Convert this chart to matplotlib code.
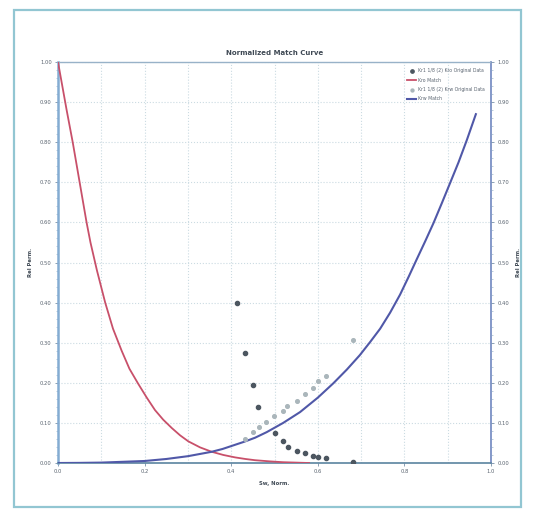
import matplotlib
matplotlib.use("Agg")
import matplotlib.pyplot as plt
from matplotlib.patches import Rectangle

# curves (normalized Sw vs rel perm)
kro_fit_x = [0.0, 0.01, 0.02, 0.034, 0.05, 0.066, 0.075, 0.09, 0.109, 0.127, 0.147,
             0.165, 0.185, 0.205, 0.224, 0.243, 0.263, 0.282, 0.301, 0.328, 0.355,
             0.382, 0.409, 0.433, 0.455, 0.49, 0.52, 0.55, 0.58]
kro_fit_y = [1.0, 0.94, 0.88, 0.80, 0.70, 0.60, 0.55, 0.48, 0.40, 0.335, 0.28,
             0.235, 0.198, 0.163, 0.132, 0.108, 0.087, 0.069, 0.054, 0.039, 0.028,
             0.020, 0.014, 0.010, 0.007, 0.004, 0.002, 0.001, 0.0]

krw_fit_x = [0.0, 0.05, 0.1, 0.15, 0.2, 0.25, 0.3, 0.33, 0.355, 0.38, 0.405, 0.43,
             0.455, 0.482, 0.52, 0.559, 0.60, 0.636, 0.667, 0.697, 0.721, 0.744,
             0.767, 0.79, 0.81, 0.828, 0.848, 0.867, 0.886, 0.905, 0.925, 0.944, 0.965]
krw_fit_y = [0.0, 0.0003, 0.001, 0.003, 0.005, 0.010, 0.017, 0.023, 0.028, 0.035,
             0.044, 0.053, 0.063, 0.077, 0.100, 0.127, 0.163, 0.199, 0.233, 0.269,
             0.302, 0.335, 0.375, 0.42, 0.465, 0.507, 0.553, 0.598, 0.647, 0.697,
             0.75, 0.805, 0.87]

# measured points
kro_sw = [0.413, 0.432, 0.451, 0.463, 0.501, 0.520, 0.532, 0.551, 0.570, 0.590,
          0.601, 0.620, 0.681]
kro_data = [0.398, 0.275, 0.195, 0.139, 0.074, 0.055, 0.041, 0.031, 0.024, 0.018,
            0.016, 0.012, 0.002]

krw_sw = [0.432, 0.451, 0.465, 0.480, 0.499, 0.520, 0.530, 0.551, 0.570, 0.590,
          0.601, 0.620, 0.681]
krw_data = [0.061, 0.078, 0.091, 0.103, 0.116, 0.130, 0.142, 0.155, 0.171, 0.186,
            0.204, 0.217, 0.308]

labels = ["Kr1 1/8 (2) Kro Original Data", "Kro Match",
          "Kr1 1/8 (2) Krw Original Data", "Krw Match"]

x_ticks = [0.0, 0.2, 0.4, 0.6, 0.8, 1.0]
y_ticks = [i / 10 for i in range(11)]

fig = plt.figure(figsize=(5.35, 5.16), dpi=100)
fig.patches.append(Rectangle((0.026, 0.017), 0.948, 0.963, transform=fig.transFigure,
                             fill=False, edgecolor="#92c6d2", lw=1.6))

ax = fig.add_axes([0.1084, 0.1027, 0.8094, 0.7771])
ax.set_xlim(0, 1.0)
ax.set_ylim(0, 1.0)

ax.grid(True, which="major", color="#cbdbe2", ls=":", lw=0.8)
ax.set_xticks([i / 10 for i in range(11)], minor=True)
ax.grid(True, which="minor", axis="x", color="#cbdbe2", ls=":", lw=0.8)

h1 = ax.scatter(kro_sw, kro_data, s=9, color="#4c5660", zorder=4)
h2, = ax.plot(kro_fit_x, kro_fit_y, color="#c8506a", lw=1.3, zorder=3,
              solid_joinstyle="round")
h3 = ax.scatter(krw_sw, krw_data, s=7, color="#aab6bb", zorder=4)
h4, = ax.plot(krw_fit_x, krw_fit_y, color="#5058a8", lw=1.5, zorder=3,
              solid_joinstyle="round")

leg = ax.legend([h1, h2, h3, h4], labels, loc="upper right", bbox_to_anchor=(0.995, 0.995),
                frameon=False, fontsize=3.3, handlelength=1.8, labelspacing=0.95,
                handletextpad=0.5, markerscale=0.8)
for t in leg.get_texts():
    t.set_color("#5a6470")

ax.set_xticks(x_ticks)
ax.set_xticklabels([f"{v:.1f}" for v in x_ticks])
ax.set_yticks(y_ticks)
ax.set_yticklabels([f"{v:.2f}" for v in y_ticks])
ax.set_yticks([i / 50 for i in range(51)], minor=True)
ax.tick_params(axis="both", which="major", labelsize=3.8, length=2.5, width=0.6,
               colors="#7890a8", labelcolor="#5a6470", pad=2)
ax.tick_params(axis="y", which="minor", length=1.3, width=0.4, colors="#8aa6c0")
ax.tick_params(axis="x", which="minor", length=0)

ax.spines["left"].set_color("#84acd2")
ax.spines["left"].set_linewidth(1.8)
ax.spines["right"].set_color("#6f86c0")
ax.spines["right"].set_linewidth(1.2)
ax.spines["top"].set_color("#98b2c8")
ax.spines["top"].set_linewidth(1.0)
ax.spines["top"].set_linestyle((0, (2, 1)))
ax.spines["bottom"].set_color("#5a84a0")
ax.spines["bottom"].set_linewidth(1.2)

ax.set_title("Normalized Match Curve", fontsize=5, fontweight="bold", color="#404a55", pad=5)
ax.set_xlabel("Sw, Norm.", fontsize=3.8, fontweight="bold", color="#404a55", labelpad=5)
ax.set_ylabel("Rel Perm.", fontsize=3.8, fontweight="bold", color="#404a55", labelpad=5)

ax2 = ax.twinx()
ax2.set_ylim(0, 1.0)
ax2.set_yticks(y_ticks)
ax2.set_yticklabels([f"{v:.2f}" for v in y_ticks])
ax2.set_yticks([i / 50 for i in range(51)], minor=True)
ax2.tick_params(axis="y", which="major", labelsize=3.8, length=2.5, width=0.6,
                colors="#7890a8", labelcolor="#5a6470", pad=2)
ax2.tick_params(axis="y", which="minor", length=1.3, width=0.4, colors="#8aa6c0")
ax2.set_ylabel("Rel Perm.", fontsize=3.8, fontweight="bold", color="#404a55", labelpad=5)
for s in ax2.spines.values():
    s.set_visible(False)

fig.savefig("out.png", dpi=100)
